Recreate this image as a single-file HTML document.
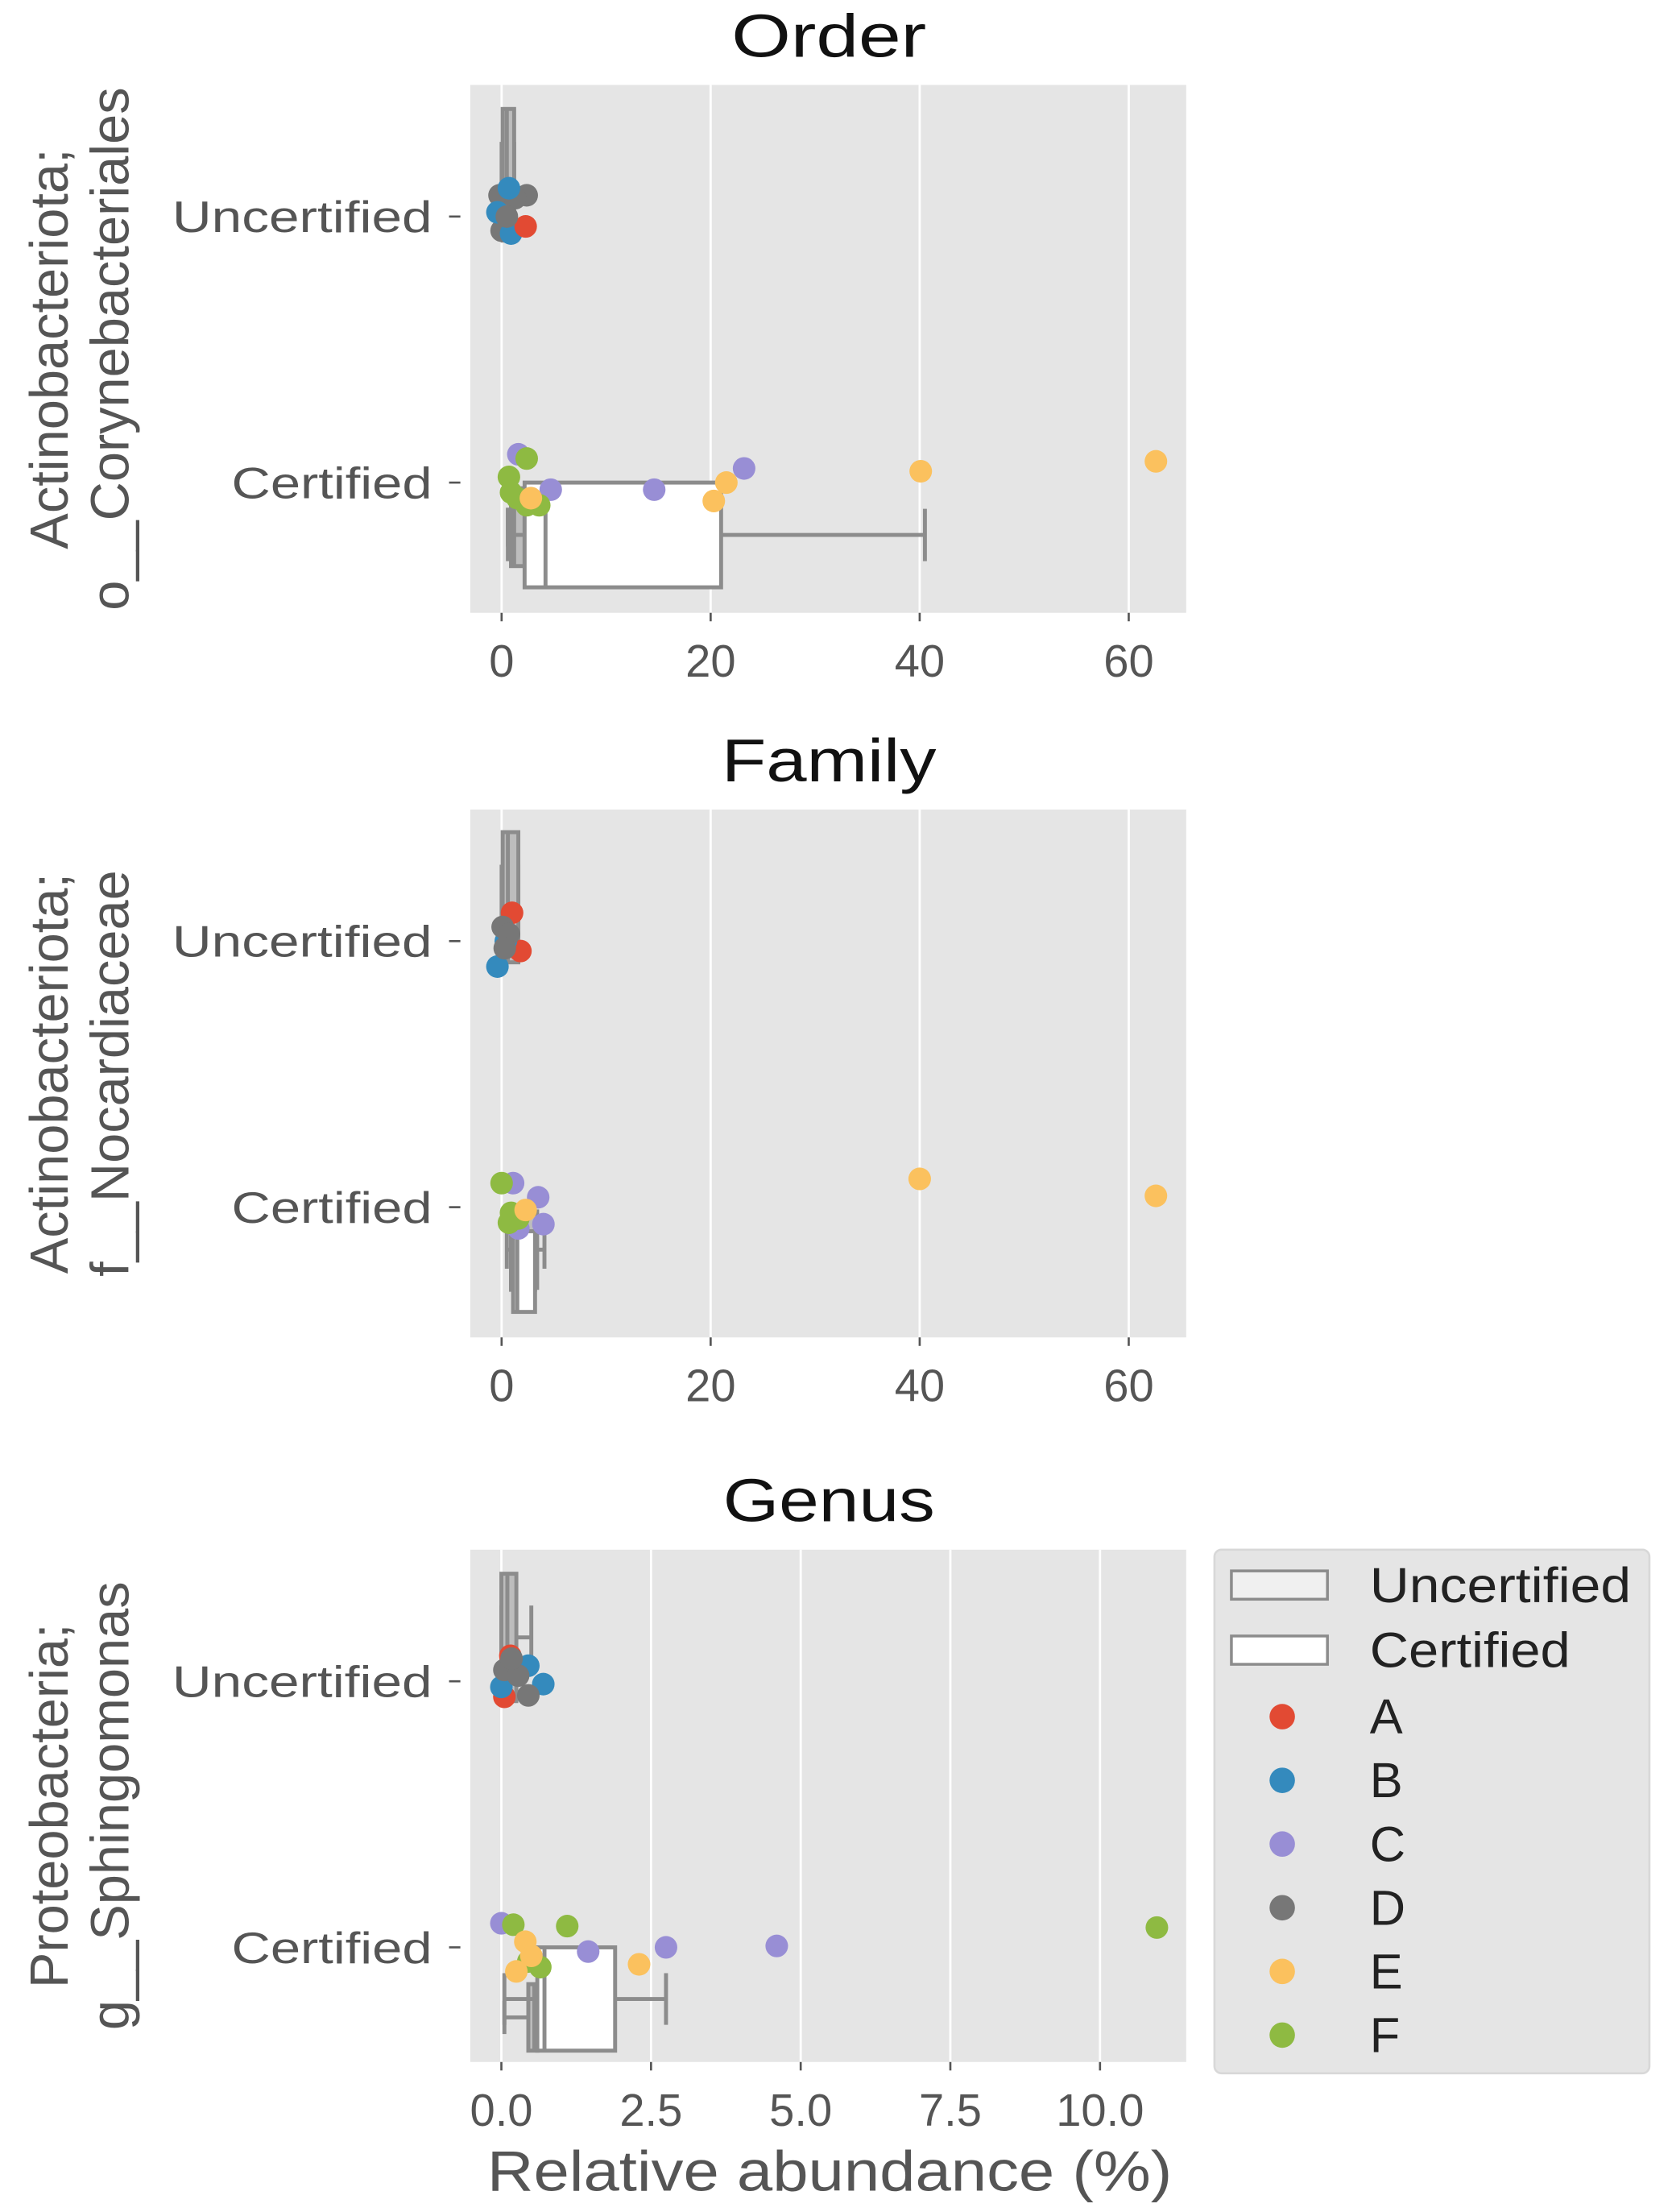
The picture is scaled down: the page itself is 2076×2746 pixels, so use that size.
<!DOCTYPE html>
<html><head><meta charset="utf-8"><style>
html,body{margin:0;padding:0;background:#fff;}
svg{display:block;}
text{font-family:"Liberation Sans",sans-serif;}
</style></head><body>
<svg id="fig" width="2076" height="2746" viewBox="0 0 1184 1563" preserveAspectRatio="none" xmlns="http://www.w3.org/2000/svg"></svg>
<script>
const colors = {A:"#E24A33",B:"#348ABD",C:"#988ED5",D:"#777777",E:"#FBC15E",F:"#8EBA42"};
const panelTitles = ["Order","Family","Genus"];
const yLabels1 = ["Actinobacteriota;","Actinobacteriota;","Proteobacteria;"];
const yLabels2 = ["o__Corynebacteriales","f__Nocardiaceae","g__Sphingomonas"];
const categories = ["Uncertified","Certified"];
const ticks1 = [0,20,40,60];
const tickLabels1 = ["0","20","40","60"];
const ticks3 = [0,2.5,5,7.5,10];
const tickLabels3 = ["0.0","2.5","5.0","7.5","10.0"];
// points: [group, categoryIndex, value, jitter(offset in px)]
const pointsOrder = [
 ["D",0,-0.2,-15],["D",0,2.4,-15],["D",0,0,10],["D",0,1.3,-13],["B",0,0.7,-20],["B",0,-0.4,-3],["B",0,0.9,12],["A",0,2.3,7],["D",0,0.5,0],
 ["C",1,1.6,-20],["C",1,23.2,-10],["C",1,4.7,5],["C",1,14.6,5],
 ["F",1,2.4,-17],["F",1,0.7,-4],["F",1,1.5,11],["F",1,2.4,16],["F",1,3.6,16],["F",1,0.9,7],
 ["E",1,40.1,-8],["E",1,62.6,-15],["E",1,21.5,0],["E",1,20.3,13],["E",1,2.8,11]
];
const pointsFamily = [
 ["A",0,1.0,-20],["A",0,1.8,7],["B",0,-0.4,18],["B",0,0.4,0],["D",0,0.1,-10],["D",0,0.7,-5],["D",0,0.3,5],
 ["C",1,1.1,-17],["C",1,3.5,-7],["C",1,4.0,12],["C",1,1.6,15],
 ["F",1,0.0,-17],["F",1,0.9,4],["F",1,0.7,11],["F",1,1.6,8],
 ["E",1,40.0,-20],["E",1,62.6,-8],["E",1,2.3,2]
];
const pointsGenus = [
 ["A",0,0.05,11],["A",0,0.15,-18],["B",0,0.45,-11],["B",0,0.7,2],["B",0,0.0,4],["D",0,0.05,-8],["D",0,0.28,-4],["D",0,0.45,10],["D",0,0.17,-16],
 ["C",1,0.0,-17],["C",1,1.45,3],["C",1,2.75,0],["C",1,4.6,-1],
 ["F",1,0.2,-16],["F",1,1.1,-15],["F",1,10.95,-14],["F",1,0.45,10],["F",1,0.65,14],
 ["E",1,0.4,-4],["E",1,0.5,6],["E",1,2.3,12],["E",1,0.25,17]
];
// boxes: [categoryIndex, hue(0 uncert,1 cert), whiskLo, q1, median, q3, whiskHi, yTopOffset, yBottomOffset]
const boxesOrder = [[0,0,0,0.1,0.5,1.2,1.2,-76,17],[1,0,0.6,0.9,1.2,2.2,2.2,4,59],[1,1,0.6,2.2,4.2,21,40.5,0,74]];
const boxesFamily = [[0,0,0,0.1,0.6,1.6,1.6,-77,15],[1,0,0.5,0.9,1.3,3.4,4.1,3,57],[1,1,0.9,1.1,1.5,3.2,3.2,17,74]];
const boxesGenus = [[0,0,0,0.0,0.1,0.25,0.5,-76,14],[1,0,0.05,0.45,0.55,0.6,0.6,26,73],[1,1,0.05,0.6,0.72,1.9,2.75,0,73]];

const panels = [
 {top:60,bottom:433,xmin:-3,xmax:65.5,ticks:ticks1,labels:tickLabels1,points:pointsOrder,boxes:boxesOrder},
 {top:572,bottom:945,xmin:-3,xmax:65.5,ticks:ticks1,labels:tickLabels1,points:pointsFamily,boxes:boxesFamily},
 {top:1095,bottom:1457,xmin:-0.52,xmax:11.44,ticks:ticks3,labels:tickLabels3,points:pointsGenus,boxes:boxesGenus}
];
const titleLens=[138,152,150];
const catLens=[184,142];
const L=333,R=840;
const NS="http://www.w3.org/2000/svg";
const svg=document.getElementById('fig');
function mk(tag,attrs,parent){const e=document.createElementNS(NS,tag);for(const k in attrs)e.setAttribute(k,attrs[k]);(parent||svg).appendChild(e);return e;}

panels.forEach((p,pi)=>{
 const g=mk('g',{});
 
 
 const xs=v=>L+(v-p.xmin)/(p.xmax-p.xmin)*(R-L);
 const catY=ci=>p.top+93+ci*188;
 const bg=mk('rect',{x:L,y:p.top,width:R-L,height:p.bottom-p.top,fill:'#e5e5e5'},g);
 
 p.ticks.forEach((t,i)=>{
  const gl=mk('line',{x1:xs(t),x2:xs(t),y1:p.top,y2:p.bottom,stroke:'#fff','stroke-width':1.6},g);
  
  mk('line',{x1:xs(t),x2:xs(t),y1:p.bottom,y2:p.bottom+6,stroke:'#555','stroke-width':1.5},g);
  const tl=mk('text',{x:xs(t),y:p.bottom+45,'text-anchor':'middle','font-size':32,fill:'#555'},g);
  tl.textContent=p.labels[i];
  
 });
 categories.forEach((c,ci)=>{
  const y=catY(ci);
  mk('line',{x1:318,x2:326,y1:y,y2:y,stroke:'#555','stroke-width':1.5},g);
  const t=mk('text',{x:306-catLens[ci],y:y+11,'font-size':31,fill:'#555',textLength:catLens[ci],lengthAdjust:'spacingAndGlyphs'},g);
  t.textContent=c;
  
 });
 p.boxes.forEach(b=>{
  const y0=catY(b[0])+b[7],y1=catY(b[0])+b[8],ym=(y0+y1)/2;
  const bg2=mk('g',{stroke:'#8c8c8c','stroke-width':2.8,fill:'none'},g);
  
  mk('line',{x1:xs(b[2]),x2:xs(b[3]),y1:ym,y2:ym},bg2);
  mk('line',{x1:xs(b[5]),x2:xs(b[6]),y1:ym,y2:ym},bg2);
  const cap=(y1-y0)/4;
  mk('line',{x1:xs(b[2]),x2:xs(b[2]),y1:ym-cap,y2:ym+cap},bg2);
  mk('line',{x1:xs(b[6]),x2:xs(b[6]),y1:ym-cap,y2:ym+cap},bg2);
  mk('rect',{x:xs(b[3]),y:y0,width:Math.max(1,xs(b[5])-xs(b[3])),height:y1-y0,fill:b[1]?'#fff':'#bdbdbd'},bg2);
  mk('line',{x1:xs(b[4]),x2:xs(b[4]),y1:y0,y2:y1},bg2);
 });
 p.points.forEach(pt=>{
  const c=mk('circle',{cx:xs(pt[2]),cy:catY(pt[1])+pt[3],r:8,fill:colors[pt[0]]},g);
  
  
 });
 const tt=mk('text',{x:587-titleLens[pi]/2,y:p.top-20,'font-size':43,fill:'#111',textLength:titleLens[pi],lengthAdjust:'spacingAndGlyphs'},g);
 tt.textContent=panelTitles[pi];
 
 const cy=(p.top+p.bottom)/2;
 const yl=mk('text',{transform:`translate(0,${cy}) rotate(-90)`,'text-anchor':'middle','font-size':38,fill:'#555'},g);
 
 const s1=mk('tspan',{x:0,y:48},yl);s1.textContent=yLabels1[pi];
 const s2=mk('tspan',{x:0,y:91},yl);s2.textContent=yLabels2[pi];
});
const xt=mk('text',{x:345,y:1548,'font-size':40,fill:'#555',textLength:485,lengthAdjust:'spacingAndGlyphs'});
xt.textContent='Relative abundance (%)';


const lg=mk('g',{});

mk('rect',{x:860,y:1095,width:308,height:370,rx:5,fill:'#e5e5e5',stroke:'#d8d8d8','stroke-width':1.5},lg);
const legendLabels=["Uncertified","Certified"];
const legendLens=[185,142];
legendLabels.forEach((l,i)=>{
 const y=1120+i*46;
 mk('rect',{x:872,y:y-10,width:68,height:20,fill:i?'#fff':'#f0f0f0',stroke:'#8c8c8c','stroke-width':2},lg);
 const t=mk('text',{x:970,y:y+12,'font-size':35,fill:'#222',textLength:legendLens[i],lengthAdjust:'spacingAndGlyphs'},lg);t.textContent=l;
 
});
Object.keys(colors).forEach((k,i)=>{
 const y=1213+i*45;
 mk('circle',{cx:908,cy:y,r:9,fill:colors[k]},lg);
 const t=mk('text',{x:970,y:y+12,'font-size':35,fill:'#222'},lg);t.textContent=k;
 
});
</script>
</body></html>
